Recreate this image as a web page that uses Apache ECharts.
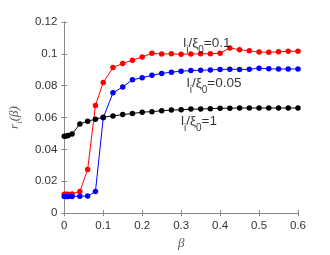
<!DOCTYPE html>
<html><head><meta charset="utf-8">
<script src="https://cdn.jsdelivr.net/npm/echarts@6/dist/echarts.min.js"></script>
<style>html,body{margin:0;padding:0;background:#fff}#c{width:330px;height:255px}</style>
</head><body><div id="c"></div>
<script>
var betaValues = [0,0.005,0.01,0.02,0.04,0.06,0.08,0.1,0.125,0.15,0.175,0.2,0.225,0.25,0.275,0.3,0.325,0.35,0.375,0.4,0.425,0.45,0.475,0.5,0.525,0.55,0.575,0.6];
var redValues = [0.0118,0.0118,0.0118,0.012,0.0136,0.0274,0.0676,0.082,0.0914,0.094,0.096,0.0981,0.1003,0.0999,0.1,0.0997,0.0999,0.1,0.1001,0.1004,0.1037,0.1026,0.102,0.1011,0.101,0.1013,0.1016,0.1016];
var blueValues = [0.0105,0.0105,0.0105,0.0105,0.0106,0.0107,0.0135,0.0598,0.0755,0.0792,0.0837,0.085,0.0865,0.0877,0.0885,0.0891,0.0895,0.0897,0.0899,0.0902,0.0904,0.0902,0.0903,0.091,0.0906,0.0905,0.0905,0.0905];
var blackValues = [0.0482,0.0484,0.0487,0.0496,0.056,0.0577,0.059,0.0602,0.061,0.0619,0.0625,0.0634,0.0637,0.0643,0.0647,0.0649,0.0653,0.0653,0.0656,0.0658,0.0659,0.066,0.066,0.066,0.066,0.066,0.066,0.066];
var seriesLabels = ['0.1','0.05','1'];
var labelAnchors = [[0.308,0.1103],[0.317,0.0855],[0.302,0.0615]];
var xTicks = ['0','0.1','0.2','0.3','0.4','0.5','0.6'];
var yTicks = ['0','0.02','0.04','0.06','0.08','0.1','0.12'];

function pairs(ys){ return betaValues.map(function(x,i){ return [x, ys[i]]; }); }
var rich = {
  m:{fontFamily:'Liberation Sans',fontSize:13.5,color:'#000',lineHeight:15,verticalAlign:'top'},
  s:{fontFamily:'Liberation Sans',fontSize:10,color:'#000',lineHeight:10,padding:[9,0,0,0],verticalAlign:'top'}
};
var annotData = labelAnchors.map(function(c,i){
  return {value:c, label:{show:true,position:[0,0],align:'left',verticalAlign:'top',
    formatter:'{m|l}{s|i}{m|/ξ}{s|0}{m|='+seriesLabels[i]+'}',rich:rich}};
});
var axisGray = '#8a8a8a';
var chart = echarts.init(document.getElementById('c'));
chart.setOption({
  animation:false,
  grid:{left:44,right:32,top:22,bottom:39},
  xAxis:[{type:'value',min:0,max:0.6,interval:0.1,position:'bottom',
    name:'β',nameLocation:'middle',nameGap:18,
    nameTextStyle:{fontFamily:'Liberation Serif',fontStyle:'italic',fontSize:13,color:'#555'},
    axisLine:{show:true,lineStyle:{color:axisGray,width:1}},
    axisTick:{show:true,inside:true,length:3,lineStyle:{color:axisGray}},
    splitLine:{show:false},
    axisLabel:{fontFamily:'Liberation Sans',fontSize:11.5,color:'#333',margin:7,
      formatter:function(v){ return xTicks[Math.round(v*10)]; }}},
   {type:'value',min:0,max:0.6,interval:0.1,position:'top',
    axisLine:{show:true,lineStyle:{color:axisGray,width:1}},
    axisTick:{show:true,inside:true,length:3,lineStyle:{color:axisGray}},
    splitLine:{show:false},axisLabel:{show:false}}],
  yAxis:[{type:'value',min:0,max:0.12,interval:0.02,position:'left',
    name:'{a|r}{b|i}{a|(β)}',nameLocation:'middle',nameGap:33,nameRotate:90,
    nameTextStyle:{rich:{
      a:{fontFamily:'Liberation Serif',fontStyle:'italic',fontSize:13,color:'#555',lineHeight:13,verticalAlign:'top'},
      b:{fontFamily:'Liberation Serif',fontStyle:'italic',fontSize:9,color:'#555',lineHeight:9,padding:[7,0,0,0],verticalAlign:'top'}}},
    axisLine:{show:true,lineStyle:{color:axisGray,width:1}},
    axisTick:{show:true,inside:true,length:3,lineStyle:{color:axisGray}},
    splitLine:{show:false},
    axisLabel:{fontFamily:'Liberation Sans',fontSize:11.5,color:'#333',margin:7,
      formatter:function(v){ return yTicks[Math.round(v/0.02)]; }}},
   {type:'value',min:0,max:0.12,interval:0.02,position:'right',
    axisLine:{show:true,lineStyle:{color:axisGray,width:1}},
    axisTick:{show:true,inside:true,length:3,lineStyle:{color:axisGray}},
    splitLine:{show:false},axisLabel:{show:false}}],
  series:[
    {type:'line',data:pairs(redValues),symbol:'circle',symbolSize:5.5,
      lineStyle:{color:'#ff0000',width:1},itemStyle:{color:'#ff0000'}},
    {type:'line',data:pairs(blueValues),symbol:'circle',symbolSize:5.5,
      lineStyle:{color:'#0000ff',width:1},itemStyle:{color:'#0000ff'}},
    {type:'line',data:pairs(blackValues),symbol:'circle',symbolSize:5.5,
      lineStyle:{color:'#000000',width:1},itemStyle:{color:'#000000'}},
    {type:'scatter',data:annotData,symbol:'circle',symbolSize:2,silent:true,
      itemStyle:{color:'rgba(0,0,0,0)'},z:5,
      label:{show:true,color:'#000'}}
  ]
});
</script></body></html>
